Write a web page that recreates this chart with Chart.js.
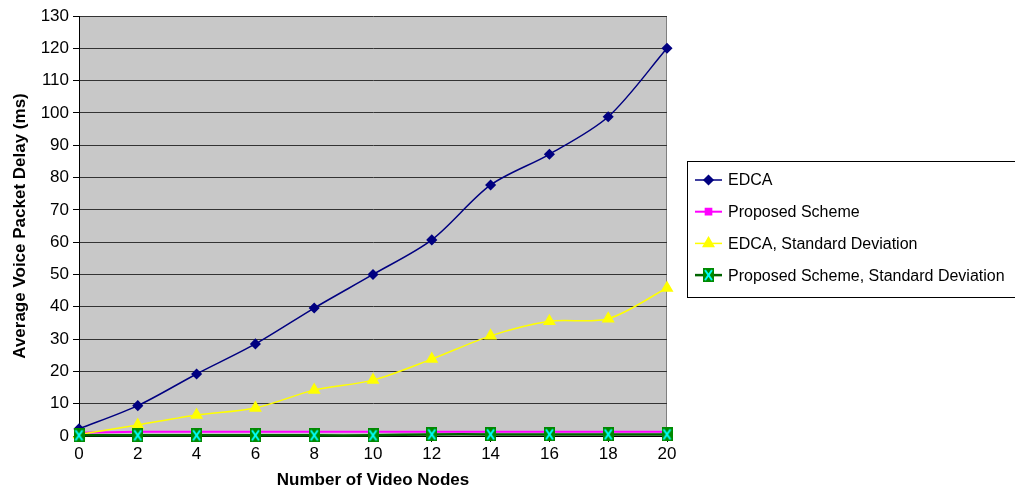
<!DOCTYPE html>
<html>
<head>
<meta charset="utf-8">
<script src="https://cdn.jsdelivr.net/npm/chart.js@4.4.1/dist/chart.umd.min.js"></script>
<style>
  html, body { margin: 0; padding: 0; background: #fff; }
  #wrap { width: 1015px; height: 497px; }
</style>
</head>
<body>
<div id="wrap"><canvas id="delayChart" width="1015" height="497"></canvas></div>
<script>
// number of video nodes on the x axis
const nodes = [0, 2, 4, 6, 8, 10, 12, 14, 16, 18, 20];
// average voice packet delay, ms
const edcaDelay = [2.2, 9.4, 19.2, 28.5, 39.6, 50.0, 60.7, 77.7, 87.2, 98.8, 120.0];
const proposedDelay = [1.0, 1.3, 1.3, 1.3, 1.3, 1.3, 1.3, 1.3, 1.3, 1.3, 1.3];
const edcaStdDev = [0.5, 3.4, 6.5, 8.7, 14.2, 17.3, 23.8, 31.0, 35.5, 36.3, 45.8];
const proposedStdDev = [0.2, 0.2, 0.2, 0.2, 0.2, 0.2, 0.5, 0.5, 0.5, 0.5, 0.5];
const yTicks = { min: 0, max: 130, step: 10 };

Chart.defaults.font.family = '"Liberation Sans", Arial, sans-serif';
Chart.defaults.color = '#000';

// green square with a cyan cross, used for the std-dev series of the proposed scheme
function crossMarker() {
    const c = document.createElement('canvas');
    c.width = 11; c.height = 14;
    const g = c.getContext('2d');
    g.fillStyle = '#008a00';
    g.fillRect(0, 0, 11, 14);
    g.strokeStyle = '#00ffff';
    g.lineWidth = 2;
    g.beginPath();
    g.moveTo(2, 2); g.lineTo(9, 12);
    g.moveTo(9, 2); g.lineTo(2, 12);
    g.stroke();
    return c;
}

// gray plot background plus thin frame on the right
const plotFrame = {
    id: 'plotFrame',
    beforeDraw(chart) {
        const a = chart.chartArea, ctx = chart.ctx;
        ctx.save();
        ctx.fillStyle = '#c8c8c8';
        ctx.fillRect(a.left, a.top, a.right - a.left, a.bottom - a.top);
        ctx.strokeStyle = '#808080';
        ctx.lineWidth = 1;
        ctx.beginPath();
        ctx.moveTo(a.right - 0.5, a.top);
        ctx.lineTo(a.right - 0.5, a.bottom);
        ctx.stroke();
        ctx.restore();
    }
};

// boxed legend on the right, line sample with marker in the middle
const boxLegend = {
    id: 'boxLegend',
    afterDraw(chart) {
        const ctx = chart.ctx;
        const x0 = 687, y0 = 161, w = 340, h = 136;
        ctx.save();
        ctx.strokeStyle = '#000';
        ctx.lineWidth = 1;
        ctx.strokeRect(x0 + 0.5, y0 + 0.5, w, h);
        ctx.font = '16px "Liberation Sans", Arial, sans-serif';
        ctx.textBaseline = 'middle';
        chart.data.datasets.forEach((ds, i) => {
            const y = 180 + i * 31.7;
            ctx.strokeStyle = ds.borderColor;
            ctx.lineWidth = ds.borderWidth;
            ctx.beginPath();
            ctx.moveTo(695, y);
            ctx.lineTo(722, y);
            ctx.stroke();
            ctx.fillStyle = ds.pointBackgroundColor;
            ctx.strokeStyle = ds.pointBorderColor;
            Chart.helpers.drawPoint(ctx, {
                pointStyle: ds.pointStyle,
                radius: ds.pointRadius,
                rotation: 0,
                borderWidth: 1
            }, 708.5, y);
            ctx.fillStyle = '#000';
            ctx.fillText(ds.label, 728, y + 1);
        });
        ctx.restore();
    }
};

new Chart(document.getElementById('delayChart'), {
    type: 'line',
    data: {
        labels: nodes,
        datasets: [
            {
                label: 'EDCA',
                data: edcaDelay,
                borderColor: '#000080',
                borderWidth: 1.5,
                pointStyle: 'rectRot',
                pointRadius: 4.5,
                pointBackgroundColor: '#000080',
                pointBorderColor: '#000080',
                tension: 0.3,
                clip: false,
                order: 1
            },
            {
                label: 'Proposed Scheme',
                data: proposedDelay,
                borderColor: '#ff00ff',
                borderWidth: 2,
                pointStyle: 'rect',
                pointRadius: 4,
                pointBackgroundColor: '#ff00ff',
                pointBorderColor: '#ff00ff',
                tension: 0.3,
                clip: false,
                order: 3
            },
            {
                label: 'EDCA, Standard Deviation',
                data: edcaStdDev,
                borderColor: '#ffff00',
                borderWidth: 1.5,
                pointStyle: 'triangle',
                pointRadius: 6,
                pointBackgroundColor: '#ffff00',
                pointBorderColor: '#ffff00',
                tension: 0.3,
                clip: false,
                order: 2
            },
            {
                label: 'Proposed Scheme, Standard Deviation',
                data: proposedStdDev,
                borderColor: '#006400',
                borderWidth: 2.5,
                pointStyle: crossMarker(),
                pointRadius: 6,
                pointBackgroundColor: '#008a00',
                pointBorderColor: '#008a00',
                tension: 0.3,
                clip: false,
                order: 0
            }
        ]
    },
    options: {
        responsive: false,
        animation: false,
        layout: { padding: { top: 16, right: 348, left: 0, bottom: 0 } },
        plugins: {
            legend: { display: false },
            tooltip: { enabled: false }
        },
        scales: {
            x: {
                offset: false,
                afterFit(scale) { scale.height = 61; },
                grid: { drawOnChartArea: false, drawTicks: true, tickLength: 6, color: '#000' },
                border: { display: true, color: '#000', width: 1 },
                ticks: { font: { size: 17 }, maxRotation: 0, padding: 2 },
                title: {
                    display: true,
                    text: 'Number of Video Nodes',
                    font: { size: 17, weight: 'bold' },
                    padding: { top: 0, bottom: 6 }
                }
            },
            y: {
                min: yTicks.min,
                max: yTicks.max,
                afterFit(scale) { scale.width = 79; },
                grid: { color: '#333', lineWidth: 1, drawTicks: true, tickLength: 6, tickColor: '#000' },
                border: { display: true, color: '#000', width: 1 },
                ticks: { stepSize: yTicks.step, font: { size: 17 }, padding: 4 },
                title: {
                    display: true,
                    text: 'Average Voice Packet Delay (ms)',
                    font: { size: 17, weight: 'bold' },
                    padding: { top: 10, bottom: 0 }
                }
            }
        }
    },
    plugins: [plotFrame, boxLegend]
});
</script>
</body>
</html>
